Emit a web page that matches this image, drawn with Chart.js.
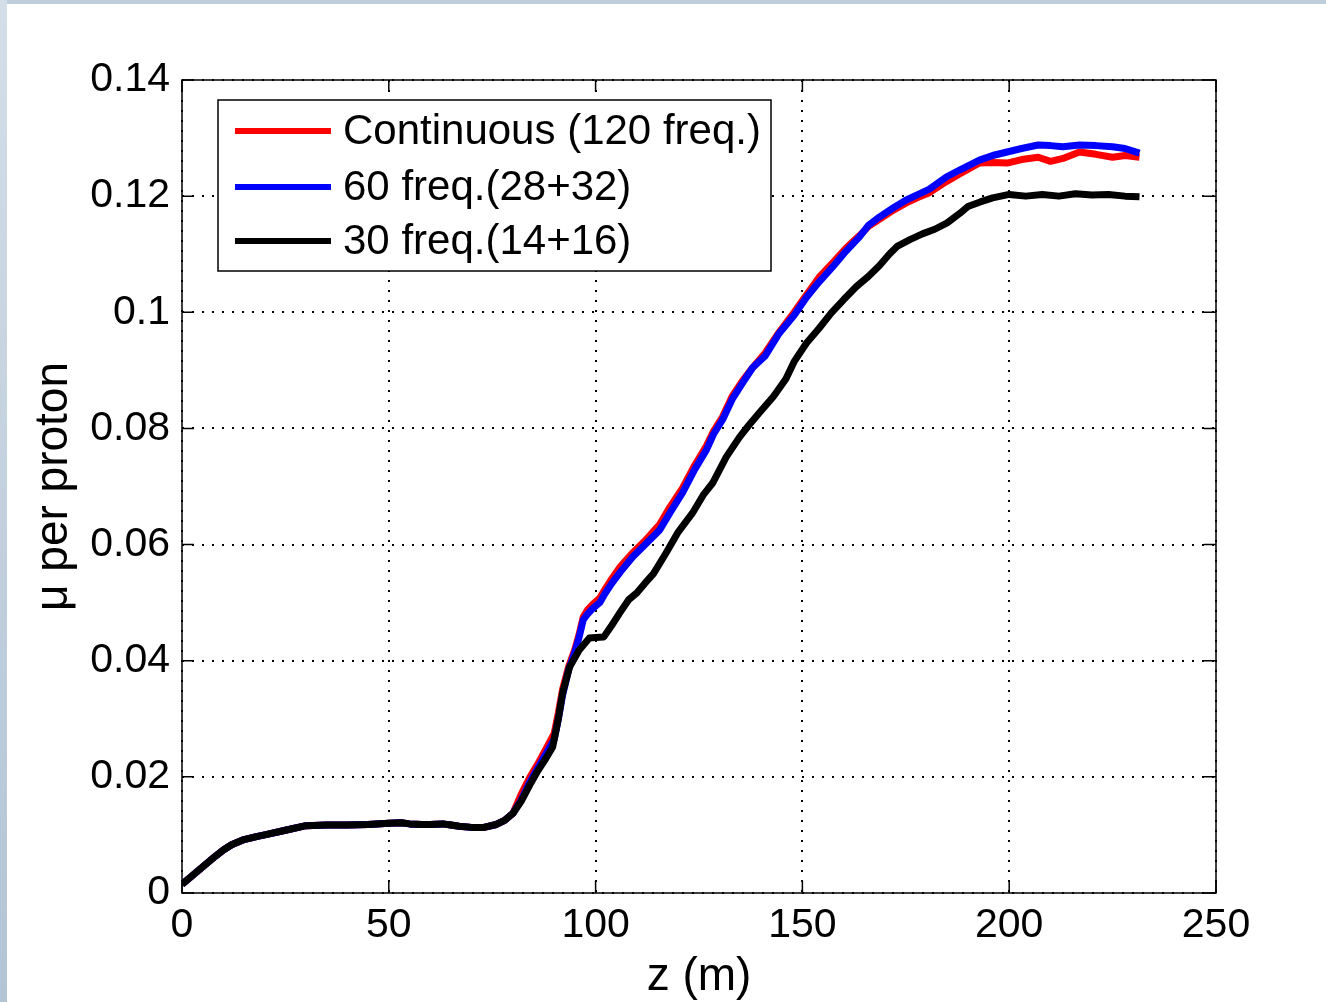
<!DOCTYPE html>
<html><head><meta charset="utf-8">
<script src="https://cdn.jsdelivr.net/npm/chart.js@4.4.0/dist/chart.umd.min.js"></script>
<style>
html,body{margin:0;padding:0;background:#fff;overflow:hidden;}
#wrap{position:relative;width:1326px;height:1002px;}
#c{position:absolute;left:0;top:0;}
#topband{position:absolute;left:0;top:0;width:1326px;height:4px;background:#bfcedb;}
#leftband{position:absolute;left:0;top:0;width:7px;height:1002px;background:linear-gradient(#d3dee8,#b3c4d4);}
</style></head><body>
<div id="wrap"><canvas id="c" width="1326" height="1002"></canvas><div id="topband"></div><div id="leftband"></div></div>
<script>
// ---- data ----
const seriesLabels = ['Continuous (120 freq.)', '60 freq.(28+32)', '30 freq.(14+16)'];
const seriesColors = ['#ff0000', '#0000ff', '#000000'];

const xTickValues = [0, 50, 100, 150, 200, 250];
const xTickLabels = ['0', '50', '100', '150', '200', '250'];
const yTickValues = [0, 0.02, 0.04, 0.06, 0.08, 0.1, 0.12, 0.14];
const yTickLabels = ['0', '0.02', '0.04', '0.06', '0.08', '0.1', '0.12', '0.14'];

// shared part (all three curves coincide)
const zEarly = [0,2,5,8,10,12,15,18,20,25,30,35,40,45,50,53,55,58,60,63,65,67,70,73,76,78,80];
const yEarly = [0.0015,0.0027,0.0045,0.0063,0.0074,0.0083,0.0092,0.0097,0.0100,0.0108,0.0116,0.0117,0.0117,0.0118,0.0120,0.0121,0.0119,0.0118,0.0118,0.0119,0.0117,0.0115,0.0113,0.0113,0.0118,0.0125,0.0137];

// 30 freq. (black)
const zBlack = [82,84,86,88,89.6,91,92,93.7,96,98.5,100,102,104,106,108,110,112,114,117,120,123.4,126,128.3,131.6,134.8,137,139.6,143,146,148,151,154,157,160,163,166,168.6,171,173,176,179,182,185,188,190,193,196,200,204,208,212,216,220,224,228,231.5];
const yBlack = [0.0158,0.0185,0.0210,0.0232,0.0251,0.0300,0.0344,0.0389,0.0418,0.0439,0.0440,0.0441,0.0462,0.0484,0.0505,0.0517,0.0534,0.0550,0.0585,0.0622,0.0654,0.0685,0.0706,0.0751,0.0785,0.0805,0.0827,0.0855,0.0885,0.0915,0.0947,0.0972,0.0999,0.1022,0.1044,0.1062,0.1080,0.1100,0.1114,0.1125,0.1135,0.1143,0.1154,0.1170,0.1182,0.1190,0.1197,0.1203,0.1200,0.1203,0.1200,0.1204,0.1202,0.1203,0.1200,0.1199];

// 60 freq. (blue) and continuous (red) share z samples
const zFine = [82,84,86,88,90,91,92,93.5,95,96,97,98,99.3,101,102.2,104,106,109,112,115.5,118,121,124,126.8,128.5,130.7,133,135.5,138,141,144.4,148,151,154,157.3,160.5,163.8,166,168.6,172,175,178,180.7,184.8,188,192.8,196,199.5,203,207,210,213,217,221,225,228,231.5];
const yBlue = [0.0160,0.0190,0.0215,0.0240,0.0265,0.0300,0.0340,0.0385,0.0415,0.0440,0.0470,0.0480,0.0490,0.0500,0.0515,0.0534,0.0553,0.0579,0.0600,0.0625,0.0655,0.0689,0.0730,0.0763,0.0790,0.0815,0.0850,0.0878,0.0905,0.0925,0.0964,0.0995,0.1026,0.1052,0.1078,0.1105,0.1130,0.1150,0.1164,0.1180,0.1193,0.1203,0.1212,0.1233,0.1245,0.1262,0.1270,0.1276,0.1282,0.1288,0.1287,0.1285,0.1288,0.1287,0.1285,0.1282,0.1274];
const yRed = [0.0170,0.0198,0.0222,0.0248,0.0275,0.0310,0.0350,0.0390,0.0420,0.0445,0.0475,0.0487,0.0497,0.0508,0.0522,0.0542,0.0562,0.0586,0.0607,0.0635,0.0665,0.0697,0.0737,0.0770,0.0795,0.0820,0.0855,0.0882,0.0905,0.0930,0.0966,0.1000,0.1030,0.1060,0.1085,0.1110,0.1132,0.1148,0.1160,0.1176,0.1188,0.1198,0.1206,0.1225,0.1238,0.1257,0.1258,0.1257,0.1263,0.1267,0.1260,0.1265,0.1276,0.1272,0.1267,0.1270,0.1267];

const toPts = (zs, ys) => zs.map((z, i) => ({x: z, y: ys[i]}));
const early = toPts(zEarly, yEarly);

const FONT = "'Liberation Sans', Arial, sans-serif";
Chart.defaults.font.family = FONT;
Chart.defaults.color = '#000';

// inward ticks + box
const boxPlugin = {
  id: 'boxPlugin',
  afterDatasetsDraw(chart) {
    const {ctx, chartArea: a, scales} = chart;
    ctx.save();
    ctx.strokeStyle = '#000';
    ctx.lineWidth = 1.5;
    ctx.strokeRect(a.left, a.top, a.right - a.left, a.bottom - a.top);
    const L = 12;
    ctx.beginPath();
    scales.x.ticks.forEach(t => {
      const px = scales.x.getPixelForValue(t.value);
      ctx.moveTo(px, a.bottom); ctx.lineTo(px, a.bottom - L);
      ctx.moveTo(px, a.top); ctx.lineTo(px, a.top + L);
    });
    scales.y.ticks.forEach(t => {
      const py = scales.y.getPixelForValue(t.value);
      ctx.moveTo(a.left, py); ctx.lineTo(a.left + L, py);
      ctx.moveTo(a.right, py); ctx.lineTo(a.right - L, py);
    });
    ctx.stroke();
    ctx.restore();
  }
};

// MATLAB-like legend inside the axes
const legendPlugin = {
  id: 'matLegend',
  afterDraw(chart) {
    const {ctx} = chart;
    const bx = 218, by = 100, bw = 553, bh = 171;
    ctx.save();
    ctx.fillStyle = '#fff';
    ctx.fillRect(bx, by, bw, bh);
    ctx.strokeStyle = '#000';
    ctx.lineWidth = 1.5;
    ctx.strokeRect(bx, by, bw, bh);
    const rows = [131, 187, 241];
    ctx.font = '42px ' + FONT;
    ctx.textBaseline = 'middle';
    ctx.textAlign = 'left';
    chart.data.datasets.forEach((ds, i) => {
      ctx.strokeStyle = ds.borderColor;
      ctx.lineWidth = 6;
      ctx.beginPath();
      ctx.moveTo(235, rows[i]); ctx.lineTo(331, rows[i]);
      ctx.stroke();
      ctx.fillStyle = '#000';
      ctx.fillText(ds.label, 343, rows[i] + 1);
    });
    ctx.restore();
  }
};

new Chart(document.getElementById('c'), {
  type: 'line',
  data: {
    datasets: [
      {label: seriesLabels[0], data: early.concat(toPts(zFine, yRed)), borderColor: seriesColors[0], order: 3},
      {label: seriesLabels[1], data: early.concat(toPts(zFine, yBlue)), borderColor: seriesColors[1], order: 2},
      {label: seriesLabels[2], data: early.concat(toPts(zBlack, yBlack)), borderColor: seriesColors[2], order: 1}
    ]
  },
  options: {
    responsive: false,
    animation: false,
    devicePixelRatio: 1,
    layout: {padding: {top: 80, right: 110, left: 0, bottom: 0}},
    elements: {
      line: {borderWidth: 7, tension: 0, fill: false, borderCapStyle: 'butt', borderJoinStyle: 'round'},
      point: {radius: 0, hoverRadius: 0}
    },
    plugins: {legend: {display: false}, tooltip: {enabled: false}},
    scales: {
      x: {
        type: 'linear', min: 0, max: 250,
        afterBuildTicks: s => { s.ticks = xTickValues.map(v => ({value: v})); },
        afterFit: s => { s.height = 109; },
        ticks: {font: {size: 41}, padding: 8, maxRotation: 0, callback: (v, i) => xTickLabels[i]},
        grid: {color: '#000', lineWidth: 2, drawTicks: false},
        border: {display: false, dash: [2, 8]},
        title: {display: true, text: 'z (m)', font: {size: 46}, padding: {top: 0, bottom: -3}}
      },
      y: {
        type: 'linear', min: 0, max: 0.14,
        afterBuildTicks: s => { s.ticks = yTickValues.map(v => ({value: v})); },
        afterFit: s => { s.width = 182; },
        ticks: {font: {size: 41}, padding: 12, callback: (v, i) => yTickLabels[i]},
        grid: {color: '#000', lineWidth: 2, drawTicks: false},
        border: {display: false, dash: [2, 8]},
        title: {display: true, text: 'μ per proton', font: {size: 46}, padding: {top: 27, bottom: 0}}
      }
    }
  },
  plugins: [boxPlugin, legendPlugin]
});
</script>
</body></html>
